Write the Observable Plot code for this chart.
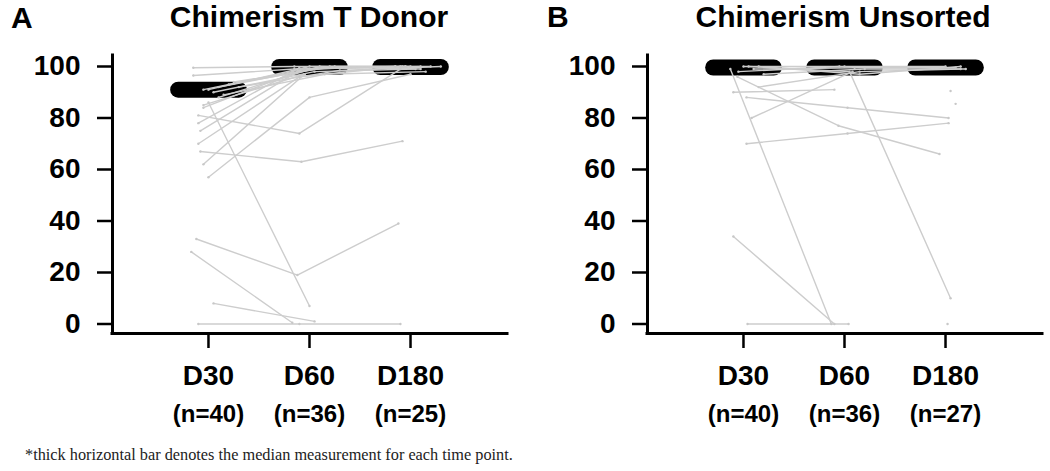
<!DOCTYPE html>
<html>
<head>
<meta charset="utf-8">
<script src="https://cdn.jsdelivr.net/npm/d3@7"></script>
<script src="https://cdn.jsdelivr.net/npm/@observablehq/plot@0.6"></script>
<style>
  html, body { margin: 0; padding: 0; background: #fff; }
  #root { position: relative; width: 1050px; height: 471px; overflow: hidden; font-family: "Liberation Sans", Arial, sans-serif; }
  .panel { position: absolute; top: 0; width: 525px; height: 440px; }
  .panel svg { max-width: none !important; }
  .letter { position: absolute; font-size: 30px; font-weight: bold; line-height: 34px; color: #000; }
  .title { position: absolute; font-size: 30px; font-weight: bold; line-height: 34px; color: #000; white-space: nowrap; transform: translateX(-50%); }
  .note { position: absolute; left: 25px; top: 446px; font-family: "Liberation Serif", "Times New Roman", serif; font-size: 16.3px; line-height: 18px; color: #222; white-space: nowrap; }
</style>
</head>
<body>
<div id="root">
  <div class="letter" style="left:11px;top:1px">A</div>
  <div class="title" style="left:309px;top:0px">Chimerism T Donor</div>
  <div class="letter" style="left:547px;top:0px">B</div>
  <div class="title" style="left:843px;top:0px">Chimerism Unsorted</div>
  <div id="pa" class="panel" style="left:0px"></div>
  <div id="pb" class="panel" style="left:535px"></div>
  <div class="note">*thick horizontal bar denotes the median measurement for each time point.</div>
</div>
<script>
// ---- data ----
const timepoints = ["D30", "D60", "D180"];
const nLabelsA = ["(n=40)", "(n=36)", "(n=25)"];
const nLabelsB = ["(n=40)", "(n=36)", "(n=27)"];
const yTicks = [0, 20, 40, 60, 80, 100];

// medians (thick bars)
const medianA = [91, 99.8, 99.8];
const medianB = [99.6, 99.6, 99.6];

// Panel A: Chimerism T Donor, one entry per subject (null = not measured)
const aD30  = [99.5, 96.5, 91, 92, 90, 93, 89, 91, 94, 92, 88, 85, 86, 81, 57, 67, 75, 70, 62, 33, 28, 8, 0, 84, 78];
const aD60  = [100, 99, 100, 99.5, 98, 100, 97, 99, 100, 98.5, 100, 97, 7, 74, 88, 63, 99, 96, 97, 19, 0.5, 1, 0, 99, 99.5];
const aD180 = [100, 100, 100, 100, 99, 100, 98, 100, null, 100, 99, null, null, 99, 97, 71, 100, 100, null, 39, null, null, 0, 100, null];
const aJit  = [-0.15, -0.15, 0, 0.1, 0.05, 0.2, 0.15, -0.05, 0.25, 0.3, 0.1, -0.05, 0, -0.1, 0, -0.08, -0.08, -0.1, -0.05, -0.12, -0.17, 0.05, -0.1, -0.05, -0.1];

// Panel B: Chimerism Unsorted
const bD30  = [99, 90, 88, 80, 70, 96, 100, 34, 0, null, null, null, 100, 99, 98, 100, 97, 92];
const bD60  = [0, 91, 84, 98, 74, 77, 98, 0, 0, null, null, null, 100, 99.5, 100, 97, 99, 98];
const bD180 = [null, null, 80, null, 78, 66, 10, null, null, 90.5, 85.5, 0, 100, 99.5, null, 100, 99, 99];
const bJit  = [-0.13, -0.1, 0.03, 0.08, 0.03, -0.06, 0.05, -0.1, 0.04, 0.05, 0.1, 0.02, 0, 0.1, -0.05, 0.15, 0.2, 0.15];

const xDomain = [0.05, 3.96];
const yDomain = [-3.69, 104.27];
const barHalf = 0.3;

function buildRows(d30, d60, d180, jit) {
  const rows = [];
  [d30, d60, d180].forEach((arr, ti) => {
    arr.forEach((v, i) => {
      rows.push({id: i, t: ti + 1, x: ti + 1 + jit[i], v: v});
    });
  });
  rows.sort((a, b) => a.id - b.id || a.t - b.t);
  return rows;
}

function panel(rows, medians, nLabels) {
  const med = medians.map((v, i) => ({t: i + 1, v}));
  return Plot.plot({
    width: 525,
    height: 440,
    marginLeft: 112,
    marginRight: 18,
    marginTop: 55,
    marginBottom: 107,
    style: {fontFamily: "'Liberation Sans', Arial, sans-serif", fontWeight: "bold", color: "#000", background: "transparent", overflow: "visible", maxWidth: "none"},
    x: {domain: xDomain},
    y: {domain: yDomain},
    marks: [
      Plot.link(med, {x1: d => d.t - barHalf, x2: d => d.t + barHalf, y1: "v", y2: "v", stroke: "#000", strokeWidth: 16, strokeLinecap: "round"}),
      Plot.line(rows, {x: "x", y: "v", z: "id", stroke: "#cdcdcd", strokeWidth: 1.4}),
      Plot.dot(rows, {x: "x", y: "v", r: 1.2, fill: "#c8c8c8"}),
      Plot.ruleX([xDomain[0]], {stroke: "#000", strokeWidth: 3, strokeLinecap: "square"}),
      Plot.ruleY([yDomain[0]], {stroke: "#000", strokeWidth: 3, strokeLinecap: "square"}),
      Plot.axisY({ticks: yTicks, tickSize: 15, tickPadding: 17, fontSize: 28, strokeWidth: 2.5, label: null}),
      Plot.axisX({ticks: [1, 2, 3], tickFormat: i => timepoints[i - 1], tickSize: 15, tickPadding: 17, fontSize: 28, strokeWidth: 2.5, label: null}),
      Plot.axisX({ticks: [1, 2, 3], tickFormat: i => nLabels[i - 1], tickSize: 0, tickPadding: 71, fontSize: 24, label: null})
    ]
  });
}

document.getElementById("pa").appendChild(panel(buildRows(aD30, aD60, aD180, aJit), medianA, nLabelsA));
document.getElementById("pb").appendChild(panel(buildRows(bD30, bD60, bD180, bJit), medianB, nLabelsB));
</script>
</body>
</html>
